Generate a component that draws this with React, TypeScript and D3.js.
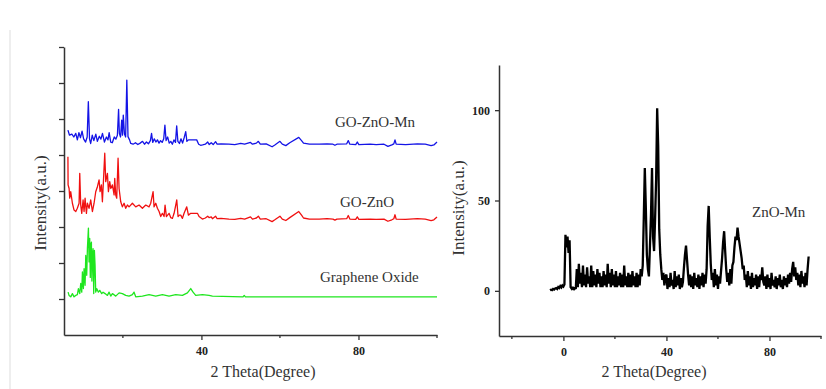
import React, { useEffect, useRef } from 'react';
import * as d3 from 'd3';

// left panel: stacked XRD traces, [2theta, offset intensity]
const goZnOMn: [number, number][] = [
  [6.0, 5.69], [6.4, 5.55], [7.0, 5.58], [7.5, 5.5], [8.0, 5.6], [8.4, 5.42], [8.8, 5.62], [9.2, 5.48],
  [9.6, 5.66], [10.0, 5.45], [10.5, 5.36], [10.9, 5.5], [11.2, 6.48], [11.5, 5.45], [11.8, 5.32], [12.2, 5.55],
  [12.6, 5.4], [13.1, 5.58], [13.5, 5.38], [14.0, 5.52], [14.4, 5.44], [14.8, 5.6], [15.3, 5.36], [15.8, 5.5],
  [16.2, 5.42], [16.5, 5.62], [16.9, 5.36], [17.3, 5.34], [17.8, 5.5], [18.2, 5.44], [18.6, 5.55], [18.9, 6.27],
  [19.1, 5.6], [19.4, 5.5], [19.7, 5.97], [19.9, 5.55], [20.1, 6.11], [20.4, 5.58], [20.7, 5.5], [21.0, 7.08],
  [21.3, 5.51], [21.7, 5.42], [22.0, 5.32], [22.6, 5.3], [23.2, 5.34], [23.8, 5.29], [24.4, 5.33], [25.0, 5.38],
  [25.5, 5.3], [26.0, 5.36], [26.5, 5.31], [27.0, 5.4], [27.3, 5.6], [27.6, 5.35], [28.0, 5.45], [28.4, 5.36],
  [28.8, 5.42], [29.2, 5.33], [29.6, 5.4], [30.0, 5.35], [30.4, 5.45], [30.7, 5.83], [31.0, 5.4], [31.4, 5.5],
  [31.8, 5.33], [32.2, 5.38], [32.6, 5.3], [33.0, 5.42], [33.4, 5.35], [33.7, 5.81], [34.0, 5.38], [34.4, 5.32],
  [34.8, 5.45], [35.2, 5.33], [35.6, 5.48], [36.0, 5.65], [36.3, 5.38], [36.7, 5.42], [37.2, 5.42], [38.0, 5.42],
  [38.8, 5.42], [39.3, 5.3], [39.8, 5.27], [40.3, 5.28], [41.0, 5.3], [41.6, 5.36], [42.0, 5.29], [42.5, 5.34],
  [43.0, 5.29], [43.6, 5.37], [44.0, 5.3], [45.0, 5.31], [47.0, 5.3], [48.5, 5.29], [50.0, 5.32], [51.0, 5.3],
  [52.5, 5.35], [53.0, 5.3], [54.0, 5.33], [54.5, 5.38], [55.0, 5.3], [56.5, 5.31], [58.0, 5.23], [58.7, 5.28],
  [60.0, 5.38], [60.6, 5.3], [61.5, 5.26], [62.5, 5.34], [64.8, 5.49], [65.5, 5.4], [66.0, 5.33], [67.5, 5.3],
  [70.0, 5.3], [72.0, 5.31], [73.5, 5.3], [74.0, 5.27], [74.5, 5.3], [77.0, 5.31], [77.4, 5.4], [77.8, 5.3],
  [79.3, 5.29], [79.7, 5.36], [80.1, 5.29], [83.0, 5.3], [84.5, 5.29], [86.5, 5.3], [87.5, 5.24], [88.5, 5.28],
  [89.0, 5.31], [89.3, 5.42], [89.6, 5.3], [92.0, 5.29], [95.0, 5.31], [97.0, 5.3], [98.5, 5.26], [99.2, 5.28],
  [100, 5.36],
];

const goZnO: [number, number][] = [
  [6.0, 4.95], [6.04, 4.17], [6.3, 4.07], [6.46, 3.8], [6.72, 3.98], [7.14, 3.66], [7.56, 3.47], [8.0, 3.43],
  [8.4, 3.52], [8.84, 3.66], [9.01, 4.49], [9.26, 3.61], [9.52, 3.38], [9.86, 3.75], [10.11, 3.43], [10.37, 3.8],
  [10.71, 3.38], [10.96, 3.66], [11.38, 3.52], [11.81, 3.75], [12.23, 3.43], [12.66, 3.66], [13.08, 3.98],
  [13.51, 4.12], [13.93, 4.31], [14.19, 3.98], [14.53, 4.17], [14.78, 3.7], [15.04, 4.26], [15.38, 5.05],
  [15.63, 4.26], [16.06, 4.49], [16.31, 3.98], [16.65, 4.26], [16.91, 4.07], [17.33, 4.17], [17.76, 3.89],
  [17.92, 4.35], [18.18, 3.89], [18.43, 3.8], [18.77, 4.91], [19.03, 4.07], [19.45, 3.7], [19.87, 3.56],
  [20.3, 3.66], [20.72, 3.52], [21.15, 3.61], [21.57, 3.56], [22.42, 3.66], [23.27, 3.56], [24.12, 3.61],
  [24.97, 3.52], [25.82, 3.61], [26.67, 3.56], [27.09, 3.66], [27.69, 3.98], [27.94, 3.56], [28.37, 3.66],
  [28.79, 3.52], [29.22, 3.43], [29.64, 3.29], [30.06, 3.38], [30.49, 3.29], [30.74, 3.61], [31.08, 3.29],
  [31.76, 3.38], [32.2, 3.26], [32.61, 3.24], [33.04, 3.38], [33.72, 3.75], [34.05, 3.29], [34.4, 3.33],
  [34.73, 3.33], [35.16, 3.24], [35.58, 3.38], [36.26, 3.56], [36.69, 3.33], [37.28, 3.38], [38.1, 3.38],
  [38.98, 3.38], [39.4, 3.29], [40.25, 3.22], [41.0, 3.25], [41.6, 3.3], [41.95, 3.26], [42.5, 3.28],
  [42.8, 3.23], [43.6, 3.3], [44.0, 3.23], [45.0, 3.24], [47.0, 3.22], [48.5, 3.21], [50.0, 3.24], [51.0, 3.22],
  [52.5, 3.28], [53.0, 3.22], [54.0, 3.25], [54.5, 3.3], [55.0, 3.22], [56.5, 3.23], [58.0, 3.15], [58.7, 3.2],
  [60.0, 3.3], [60.6, 3.22], [61.5, 3.18], [62.5, 3.26], [64.8, 3.43], [65.5, 3.33], [66.0, 3.25], [67.5, 3.22],
  [70.0, 3.22], [72.0, 3.23], [73.5, 3.22], [74.0, 3.19], [74.5, 3.22], [77.0, 3.23], [77.4, 3.32], [77.8, 3.22],
  [79.3, 3.21], [79.7, 3.28], [80.1, 3.21], [83.0, 3.22], [84.5, 3.21], [86.5, 3.22], [87.5, 3.16], [88.5, 3.2],
  [89.0, 3.23], [89.3, 3.34], [89.6, 3.22], [92.0, 3.21], [95.0, 3.23], [97.0, 3.22], [98.5, 3.18], [99.2, 3.2],
  [100, 3.28],
];

const grapheneOxide: [number, number][] = [
  [6.04, 1.19], [6.29, 1.1], [6.72, 1.06], [7.14, 1.15], [7.56, 1.06], [7.99, 1.1], [8.41, 1.12], [8.67, 1.29],
  [9.01, 1.15], [9.26, 1.43], [9.52, 1.19], [9.69, 1.75], [9.94, 1.29], [10.11, 1.84], [10.37, 1.38],
  [10.54, 2.21], [10.79, 1.66], [10.96, 2.4], [11.22, 2.97], [11.38, 2.03], [11.55, 2.68], [11.7, 1.6],
  [11.81, 2.5], [11.98, 2.58], [12.1, 1.5], [12.23, 2.2], [12.4, 2.4], [12.57, 1.15], [12.74, 2.35],
  [12.91, 1.94], [13.08, 1.19], [13.33, 1.29], [13.76, 1.19], [14.1, 1.24], [14.61, 1.15], [14.95, 1.19],
  [15.46, 1.15], [16.06, 1.1], [16.48, 1.19], [16.91, 1.08], [17.33, 1.15], [18.18, 1.08], [19.03, 1.17],
  [19.87, 1.15], [20.72, 1.1], [21.57, 1.08], [22.42, 1.12], [22.84, 1.19], [23.27, 1.06], [24.97, 1.08],
  [26.67, 1.12], [28.37, 1.08], [30.06, 1.12], [31.76, 1.08], [33.46, 1.12], [35.16, 1.1], [36.43, 1.17],
  [37.28, 1.29], [37.87, 1.19], [38.55, 1.1], [40.25, 1.12], [41.95, 1.1], [42.8, 1.08], [50.6, 1.06],
  [50.9, 1.1], [51.2, 1.06], [100, 1.06],
];

// right panel: ZnO-Mn scan, one reading every 0.4 degree from -5.2
const znoMnStart = -5.2;
const znoMnStep = 0.4;
const znoMnIntensity = [
  0.3, 0.6, 0.4, 1.0, 0.7, 1.3, 1.5, 1.0, 2.1, 1.6, 2.6, 1.9, 3.0, 2.4,
  3.5, 31, 24, 30, 21, 28, 2,
  1.2, 2.2, 0.5, 1.8, 1.0,
  12, 2, 15, 4, 10, 2, 14, 3, 9, 2,
  13, 4, 8, 2, 14, 2, 11, 3, 9, 2,
  12, 4, 10, 2, 8, 2, 11, 3, 9, 2,
  15, 4, 10, 2, 12, 3, 9, 2, 11, 2,
  8, 3, 10, 2, 9, 2, 14, 3, 8, 2,
  10, 2, 9, 2, 11, 3, 8, 2, 10, 2,
  9, 3, 12,
  8, 14, 40, 68, 46, 20, 12, 8, 25, 42, 68, 30, 22, 40, 62, 101, 80, 34, 20, 12, 6, 10, 3, 8,
  9, 1, 7, 2, 10, 3, 6, 1, 11, 2, 8, 3, 9, 1, 7, 2,
  5, 13, 20, 25, 17, 9, 3,
  9, 2, 8, 1, 10, 3, 7, 2, 9, 1, 8, 3, 10, 2, 9, 4,
  12, 36, 47, 30, 15, 6,
  10, 2, 12, 3, 9, 1, 8, 4, 11,
  18, 27, 33, 22, 12, 5,
  10, 3, 12, 4, 14,
  16, 24, 30, 28, 35, 30, 26, 22, 18, 12, 14, 6,
  9, 2, 11, 3, 8, 1, 10, 2, 7, 3, 9, 1, 8, 2, 9,
  6, 13, 5,
  3, 8, 1, 9, 2, 7, 1, 10, 3, 6, 2, 8, 1, 7, 3, 9, 2, 6, 1, 8, 3, 7, 2, 9, 4, 10, 5,
  12, 16, 8, 13, 6,
  10, 3, 9, 2, 11, 4, 8, 2, 10, 3, 12,
  19,
];

const leftXTicks = [40, 80];
const leftXMinor = [20, 60, 100];
const leftYTicks = [1, 2, 3, 4, 5, 6, 7, 8];
const rightXTicks = [0, 40, 80];
const rightXMinor = [-20, 20, 60, 100];
const rightYTicks = [0, 50, 100];

const FONT = "'Liberation Serif', 'Times New Roman', serif";
const AXIS = '#333';

const App = () => {
  const ref = useRef<SVGSVGElement>(null);

  useEffect(() => {
    const svg = d3.select(ref.current);
    svg.selectAll('*').remove();

    const styleAxis = (g: any, bold = true) => {
      g.select('.domain').attr('stroke', AXIS).attr('stroke-width', 1.5);
      g.selectAll('.tick line').attr('stroke', AXIS).attr('stroke-width', 1.3);
      g.selectAll('.tick text')
        .attr('fill', '#222')
        .attr('font-family', FONT)
        .attr('font-size', 12)
        .attr('font-weight', bold ? 'bold' : 'normal');
    };

    // faint frame line on the left edge
    svg.append('line')
      .attr('x1', 10).attr('x2', 10).attr('y1', 30).attr('y2', 389)
      .attr('stroke', '#e8e8e8').attr('stroke-width', 1.5);

    // ---------- left panel ----------
    const xL = d3.scaleLinear().domain([5, 100]).range([64, 437]);
    const yL = d3.scaleLinear().domain([0, 8]).range([335, 47]);

    const lineL = d3.line<[number, number]>()
      .x(d => xL(d[0]))
      .y(d => yL(d[1]));

    const traces = [
      { data: grapheneOxide, color: '#1fe61f' },
      { data: goZnO, color: '#f01010' },
      { data: goZnOMn, color: '#1414e6' },
    ];
    traces.forEach(t => {
      svg.append('path')
        .attr('d', lineL(t.data))
        .attr('fill', 'none')
        .attr('stroke', t.color)
        .attr('stroke-width', 1.3)
        .attr('stroke-linejoin', 'round');
    });

    const gxL = svg.append('g')
      .attr('transform', `translate(0,${yL(0)})`)
      .call(d3.axisBottom(xL).tickValues(leftXTicks).tickSize(5).tickSizeOuter(0).tickPadding(6).tickFormat(d3.format('d')));
    styleAxis(gxL);
    gxL.selectAll('.minor')
      .data(leftXMinor)
      .enter()
      .append('line')
      .attr('x1', d => xL(d)).attr('x2', d => xL(d))
      .attr('y1', 0).attr('y2', 3)
      .attr('stroke', AXIS).attr('stroke-width', 1.3);

    const gyL = svg.append('g')
      .attr('transform', `translate(${xL(5)},0)`)
      .call(d3.axisLeft(yL).tickValues(leftYTicks).tickSize(5).tickSizeOuter(0).tickFormat(() => ''));
    styleAxis(gyL);

    svg.append('text')
      .attr('x', 263).attr('y', 377)
      .attr('text-anchor', 'middle')
      .attr('font-family', FONT).attr('font-size', 16).attr('fill', '#333')
      .text('2 Theta(Degree)');
    svg.append('text')
      .attr('transform', 'translate(46,203) rotate(-90)')
      .attr('text-anchor', 'middle')
      .attr('font-family', FONT).attr('font-size', 17).attr('fill', '#333')
      .text('Intensity(a.u.)');

    const labelsL = [
      { text: 'GO-ZnO-Mn', x: 335, y: 127 },
      { text: 'GO-ZnO', x: 340, y: 207 },
      { text: 'Graphene Oxide', x: 320, y: 282 },
    ];
    labelsL.forEach(l => {
      svg.append('text')
        .attr('x', l.x).attr('y', l.y)
        .attr('font-family', FONT).attr('font-size', 15).attr('fill', '#333')
        .text(l.text);
    });

    // ---------- right panel ----------
    const xR = d3.scaleLinear().domain([-25, 100]).range([499, 821]);
    const yR = d3.scaleLinear().domain([-25, 125]).range([336, 65]);

    const lineR = d3.line<number>()
      .x((d, i) => xR(znoMnStart + i * znoMnStep))
      .y(d => yR(d));

    svg.append('path')
      .attr('d', lineR(znoMnIntensity))
      .attr('fill', 'none')
      .attr('stroke', '#000')
      .attr('stroke-width', 2.3)
      .attr('stroke-linejoin', 'miter')
      .attr('stroke-miterlimit', 2);

    const gxR = svg.append('g')
      .attr('transform', `translate(0,${yR(-25)})`)
      .call(d3.axisBottom(xR).tickValues(rightXTicks).tickSize(5).tickSizeOuter(0).tickPadding(6).tickFormat(d3.format('d')));
    styleAxis(gxR);
    gxR.selectAll('.minor')
      .data(rightXMinor)
      .enter()
      .append('line')
      .attr('x1', d => xR(d)).attr('x2', d => xR(d))
      .attr('y1', 0).attr('y2', 3)
      .attr('stroke', AXIS).attr('stroke-width', 1.3);

    const gyR = svg.append('g')
      .attr('transform', `translate(${xR(-25)},0)`)
      .call(d3.axisLeft(yR).tickValues(rightYTicks).tickSize(4).tickSizeOuter(0).tickPadding(5).tickFormat(d3.format('d')));
    styleAxis(gyR);

    svg.append('text')
      .attr('x', 654).attr('y', 377)
      .attr('text-anchor', 'middle')
      .attr('font-family', FONT).attr('font-size', 16).attr('fill', '#333')
      .text('2 Theta(Degree)');
    svg.append('text')
      .attr('transform', 'translate(464,208) rotate(-90)')
      .attr('text-anchor', 'middle')
      .attr('font-family', FONT).attr('font-size', 17).attr('fill', '#333')
      .text('Intensity(a.u.)');
    svg.append('text')
      .attr('x', 752).attr('y', 217)
      .attr('font-family', FONT).attr('font-size', 15).attr('fill', '#333')
      .text('ZnO-Mn');
  }, []);

  return (
    <div>
      <style>{'body{margin:0;background:#fff}'}</style>
      <svg ref={ref} width={826} height={389} style={{ display: 'block' }} />
    </div>
  );
};

export default App;
